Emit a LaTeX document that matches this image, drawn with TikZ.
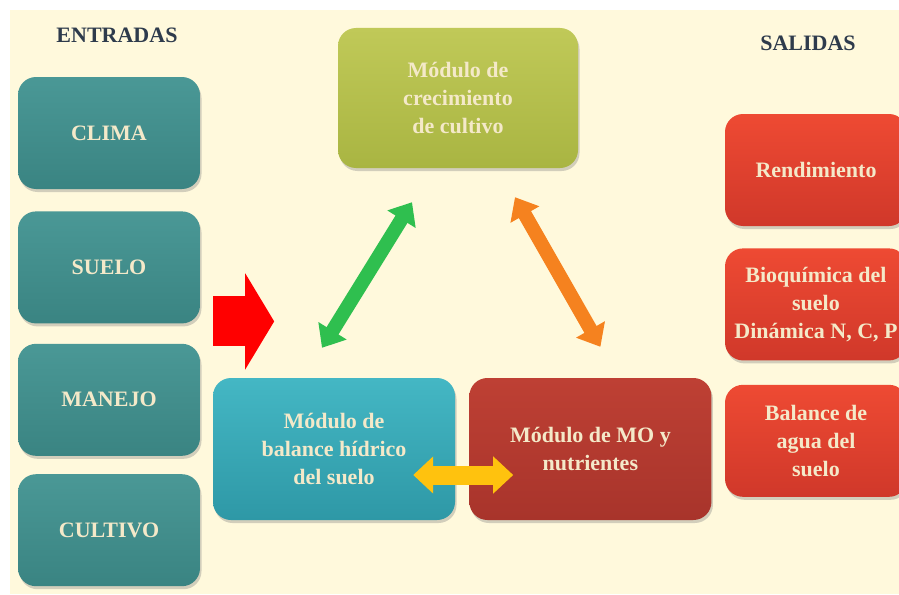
\documentclass[tikz,border=0pt]{standalone}
\usepackage{fontspec}
\setmainfont{Liberation Serif}
\usetikzlibrary{arrows.meta,positioning,calc,shadows}
\definecolor{cream}{HTML}{FFF9DC}
\definecolor{headc}{HTML}{2E3B4C}
\definecolor{txtc}{HTML}{F4E9C9}
\definecolor{tealtop}{HTML}{4A9896}
\definecolor{tealbot}{HTML}{3A8482}
\definecolor{olivetop}{HTML}{C0C958}
\definecolor{olivebot}{HTML}{A9B542}
\definecolor{bluetop}{HTML}{44B7C4}
\definecolor{bluebot}{HTML}{2E98A6}
\definecolor{bricktop}{HTML}{BE4034}
\definecolor{brickbot}{HTML}{A8342B}
\definecolor{redtop}{HTML}{EE4A33}
\definecolor{redbot}{HTML}{D0382A}
\definecolor{arrgreen}{HTML}{2FBF4F}
\definecolor{arrorange}{HTML}{F5821F}
\definecolor{arryellow}{HTML}{FFC20E}

\begin{document}
\begin{tikzpicture}[x=1pt,y=-1pt,
  box/.style={rounded corners=18pt,align=center,text=txtc,
    font=\fontsize{22}{28}\selectfont\bfseries,
    drop shadow={shadow xshift=1.5pt,shadow yshift=-3pt,opacity=0.35}},
  inp/.style={box,minimum width=182pt,minimum height=112pt,top color=tealtop,bottom color=tealbot},
  outp/.style={box,minimum width=182pt,minimum height=112pt,top color=redtop,bottom color=redbot},
  modg/.style={box,minimum width=240pt,minimum height=140pt,top color=olivetop,bottom color=olivebot},
  modb/.style={box,minimum width=242pt,minimum height=142pt,top color=bluetop,bottom color=bluebot},
  modr/.style={box,minimum width=242pt,minimum height=142pt,top color=bricktop,bottom color=brickbot},
  head/.style={text=headc,font=\fontsize{22}{26}\selectfont\bfseries},
  dbl/.style={line width=14pt,{Triangle[width=32pt,length=20pt]}-{Triangle[width=32pt,length=20pt]}},
  node distance=21pt
]
\fill[white] (0,0) rectangle (899,594);
\fill[cream] (10,10) rectangle (899,594);
\useasboundingbox (0,0) rectangle (899,594);
% entradas
\node[head] (ent) at (117,35) {ENTRADAS};
\node[inp] (clima) at (109,133) {CLIMA};
\node[inp,below=22pt of clima] (suelo) {SUELO};
\node[inp,below=20pt of suelo] (manejo) {MANEJO};
\node[inp,below=18pt of manejo] (cultivo) {CULTIVO};
% modulos
\node[modg] (crec) at (458,98) {Módulo de\\crecimiento\\de cultivo};
\node[modb] (bal) at (334,449) {Módulo de\\balance hídrico\\del suelo};
\node[modr,right=14pt of bal] (mo) {Módulo de MO y\\nutrientes};
% salidas
\node[head] (sal) at (808,43) {SALIDAS};
\node[outp] (rend) at (816,170) {Rendimiento};
\node[outp,below=22pt of rend] (bioq) {Bioquímica del\\suelo\\Dinámica N, C, P};
\node[outp,below=24pt of bioq] (agua) {Balance de\\agua del\\suelo};
% flechas
\coordinate (inA) at ($(suelo.east)+(13,54)$);
\coordinate (inB) at ($(suelo.east)+(74,54)$);
\draw[red,line width=50pt,-{Triangle[width=95pt,length=29pt]}] (inA) -- (inB);
\coordinate (gA) at ($(bal.north)+(-12,-30)$);
\coordinate (gB) at ($(crec.south)+(-46,34)$);
\draw[dbl,arrgreen] (gA) -- (gB);
\coordinate (oA) at ($(crec.south)+(57,29)$);
\coordinate (oB) at ($(mo.north)+(10,-31)$);
\draw[dbl,arrorange] (oA) -- (oB);
\coordinate (yA) at ($(bal.east)+(-42,26)$);
\coordinate (yB) at ($(mo.west)+(44,26)$);
\draw[arryellow,line width=19pt,{Triangle[width=36pt,length=20pt]}-{Triangle[width=36pt,length=20pt]}] (yA) -- (yB);
\end{tikzpicture}
\end{document}
